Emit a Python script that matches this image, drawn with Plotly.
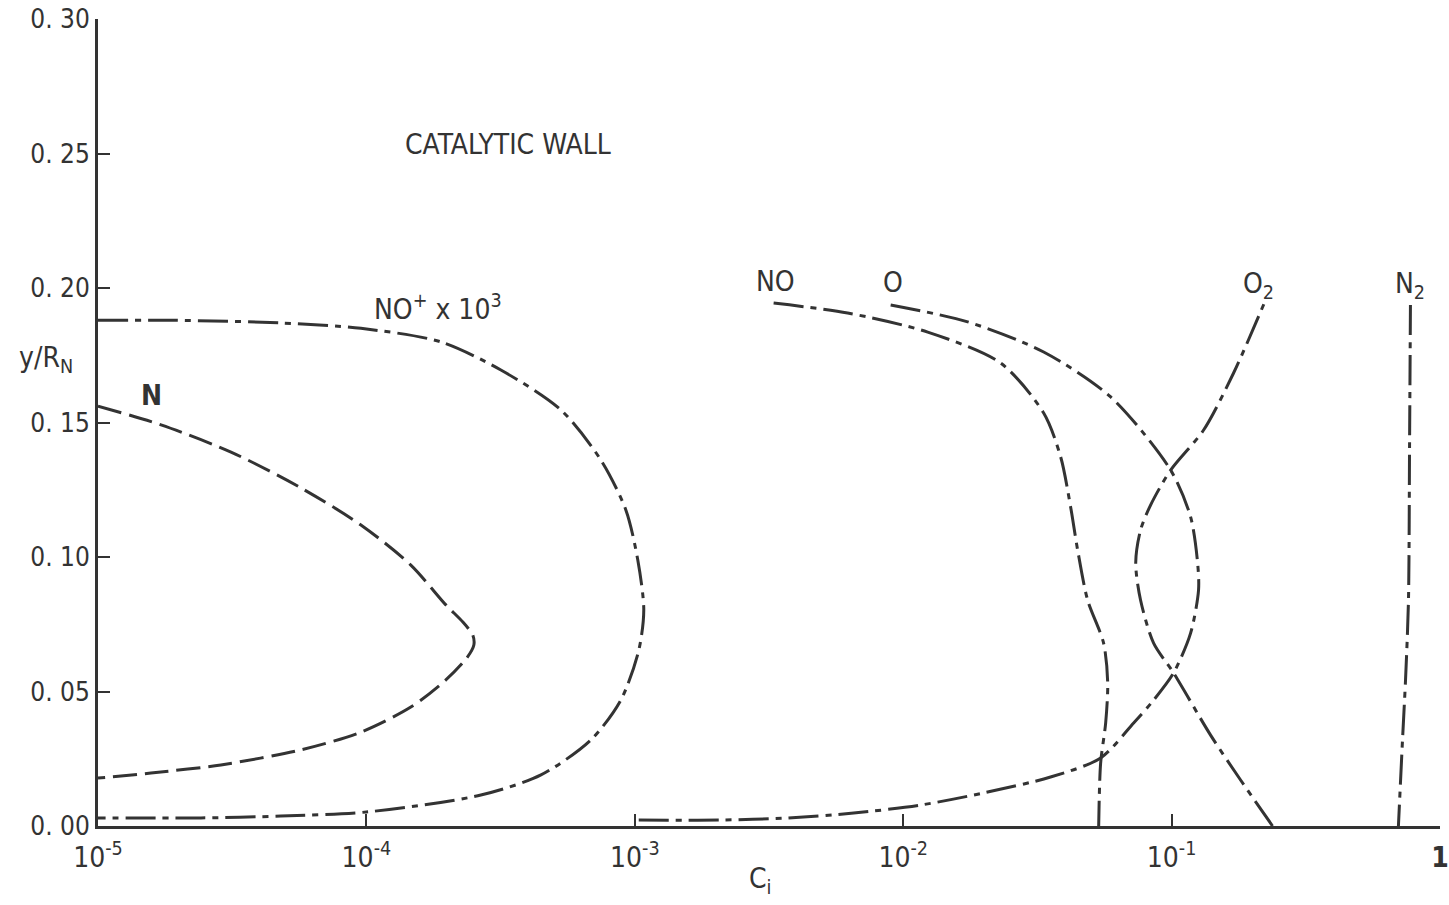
import plotly.graph_objects as go

# ---------------- data ----------------
# NO+ x 10^3
nop_c = [1.0e-5, 1.95e-5, 4.80e-5, 9.54e-5, 1.89e-4, 3.17e-4, 5.30e-4, 7.47e-4, 9.26e-4, 1.026e-3,
         1.080e-3, 1.035e-3, 8.87e-4, 6.86e-4, 4.47e-4, 2.67e-4, 1.00e-4, 4.80e-5, 2.42e-5, 1.0e-5]
nop_y = [0.188, 0.188, 0.187, 0.185, 0.180, 0.1695, 0.1547, 0.1361, 0.1175, 0.0989,
         0.0803, 0.0654, 0.0468, 0.0320, 0.0190, 0.0115, 0.0052, 0.0037, 0.0030, 0.0030]

# N
n_c = [1.0e-5, 1.717e-5, 3.13e-5, 5.70e-5, 9.54e-5, 1.464e-4, 1.977e-4, 2.288e-4, 2.49e-4,
       2.514e-4, 2.367e-4, 1.977e-4, 1.464e-4, 9.54e-5, 5.70e-5, 2.87e-5, 1.575e-5, 1.0e-5]
n_y = [0.1561, 0.1491, 0.1390, 0.1257, 0.1119, 0.0970, 0.0822, 0.0758, 0.0710,
       0.0673, 0.0625, 0.0543, 0.0442, 0.0349, 0.0283, 0.0227, 0.0197, 0.0178]

# NO
no_c = [3.29e-3, 6.21e-3, 1.234e-2, 2.307e-2, 3.337e-2, 3.861e-2, 4.205e-2, 4.466e-2, 4.865e-2,
        5.58e-2, 5.78e-2, 5.68e-2, 5.44e-2, 5.35e-2]
no_y = [0.1944, 0.1907, 0.1836, 0.1721, 0.1535, 0.1372, 0.1186, 0.1026, 0.0840,
        0.0680, 0.0532, 0.0383, 0.0234, 0.0]

# O
o_c = [8.98e-3, 1.739e-2, 3.337e-2, 5.93e-2, 0.0992, 0.1177, 0.1250, 0.1260, 0.1177, 0.1017,
       8.57e-2, 7.22e-2, 5.44e-2, 3.54e-2, 1.995e-2, 1.162e-2, 6.54e-3, 3.71e-3, 2.09e-3, 1.0e-3]
o_y = [0.1937, 0.1874, 0.1762, 0.1595, 0.1323, 0.1149, 0.0978, 0.0877, 0.0717, 0.0569,
       0.0468, 0.0383, 0.0253, 0.0182, 0.0123, 0.0078, 0.0048, 0.0030, 0.0022, 0.0022]

# O2
o2_c = [0.2377, 0.1807, 0.1397, 0.1017, 8.57e-2, 7.66e-2, 7.35e-2, 7.66e-2, 8.35e-2, 0.0992,
        0.1316, 0.1702, 0.2239]
o2_y = [0.0, 0.0171, 0.0338, 0.0569, 0.0680, 0.0840, 0.0978, 0.1100, 0.1193, 0.1323,
        0.1472, 0.1684, 0.1955]

# N2
n2_c = [0.776, 0.770, 0.763, 0.744, 0.725, 0.700]
n2_y = [0.1937, 0.1398, 0.0840, 0.0543, 0.0320, 0.0]

x_tickvals = [1e-5, 1e-4, 1e-3, 1e-2, 1e-1, 1]
x_ticktext = ["10<sup>-5</sup>", "10<sup>-4</sup>", "10<sup>-3</sup>", "10<sup>-2</sup>",
              "10<sup>-1</sup>", "<b>1</b>"]
y_tickvals = [0.0, 0.05, 0.10, 0.15, 0.20, 0.25, 0.30]
y_ticktext = ["0. 00", "0. 05", "0. 10", "0. 15", "0. 20", "0. 25", "0. 30"]

# ---------------- figure ----------------
INK = "#333333"
FONT = "Liberation Sans Narrow, DejaVu Sans Condensed, Arial Narrow, sans-serif"
DASHDOT = "30px,7px,6px,7px"
LONGDASH = "24px,8px"

fig = go.Figure()

def add_curve(cx, cy, dash):
    fig.add_trace(go.Scatter(
        x=cx, y=cy, mode="lines",
        line=dict(color=INK, width=3, dash=dash, shape="spline", smoothing=0.8),
        hoverinfo="skip", showlegend=False))

add_curve(nop_c, nop_y, DASHDOT)
add_curve(n_c, n_y, LONGDASH)
add_curve(no_c, no_y, DASHDOT)
add_curve(o_c, o_y, DASHDOT)
add_curve(o2_c, o2_y, DASHDOT)
add_curve(n2_c, n2_y, DASHDOT)

fig.update_xaxes(
    type="log", range=[-5, 0],
    tickvals=x_tickvals, ticktext=x_ticktext,
    ticks="inside", ticklen=12, tickwidth=2, tickcolor=INK,
    showline=True, linecolor=INK, linewidth=3,
    showgrid=False, zeroline=False, automargin=False,
    tickfont=dict(family=FONT, size=28, color=INK),
    ticklabelstandoff=4,
)
fig.update_yaxes(
    range=[0, 0.30],
    tickvals=y_tickvals, ticktext=y_ticktext,
    ticks="inside", ticklen=12, tickwidth=2, tickcolor=INK,
    showline=True, linecolor=INK, linewidth=3,
    showgrid=False, zeroline=False, automargin=False,
    tickfont=dict(family=FONT, size=26, color=INK),
    ticklabelstandoff=0,
)

def label(text, xp, yp, size=28, **kw):
    fig.add_annotation(text=text, x=xp, y=yp, xref="paper", yref="paper",
                       xanchor="center", yanchor="middle",
                       showarrow=False, font=dict(family=FONT, size=size, color=INK), **kw)

label("CATALYTIC WALL", 0.3053, 0.8439)
label("NO<sup>+</sup> x 10<sup>3</sup>", 0.2532, 0.642)
label("<b>N</b>", 0.0395, 0.534)
label("NO", 0.5048, 0.6753)
label("O", 0.5927, 0.6741)
label("O<sub>2</sub>", 0.8645, 0.6700)
label("N<sub>2</sub>", 0.9777, 0.6700)
label("y/R<sub>N</sub>", -0.0387, 0.5780)
label("C<sub>i</sub>", 0.4937, -0.0680)

fig.update_layout(
    width=1449, height=905,
    margin=dict(l=98, r=9, t=19, b=79),
    paper_bgcolor="white", plot_bgcolor="white",
    showlegend=False,
)

fig.write_html("out.html")
